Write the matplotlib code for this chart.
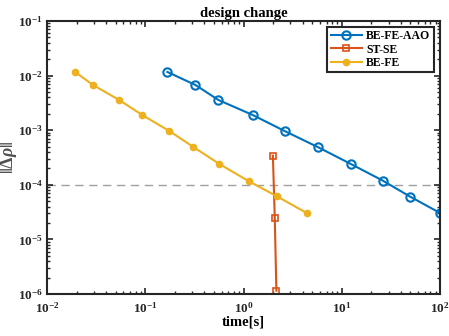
import numpy as np
import matplotlib
matplotlib.use('Agg')
import matplotlib.pyplot as plt

plt.rcParams['font.family'] = ['Liberation Serif', 'DejaVu Serif']
plt.rcParams['font.weight'] = 'bold'
plt.rcParams['mathtext.fontset'] = 'custom'
plt.rcParams['mathtext.rm'] = 'Liberation Serif:bold'
plt.rcParams['mathtext.it'] = 'Liberation Serif:italic'
plt.rcParams['mathtext.bf'] = 'Liberation Serif:bold'

# --- données ---
t_aao = [0.168, 0.324, 0.556, 1.24, 2.62, 5.69, 12.4, 26.2, 49.4, 100.0]
d_aao = [0.01165, 0.00673, 0.00357, 0.0019, 0.000966, 0.000492, 0.00024, 0.000119, 6.1e-5, 3.05e-5]

t_stse = [1.99, 2.08, 2.16]
d_stse = [3.41e-4, 2.49e-5, 1.15e-6]

t_befe = [0.0193, 0.0294, 0.0543, 0.093, 0.176, 0.309, 0.569, 1.125, 2.17, 4.39]
d_befe = [0.01165, 0.00673, 0.00357, 0.0019, 0.000966, 0.000492, 0.00024, 0.000117, 6.2e-5, 3.05e-5]

seuil = 1e-4

fig = plt.figure(figsize=(4.49, 3.36), dpi=100)
ax = fig.add_axes([0.1047, 0.125, 0.8753, 0.8125])

ax.plot(t_aao, d_aao, '-o', color='#0072BD', lw=1.5, ms=6,
        mfc='none', mew=1.5, label='BE-FE-AAO')
ax.plot(t_stse, d_stse, '-s', color='#D95319', lw=1.5, ms=5,
        mfc='none', mew=1.2, label='ST-SE')
ax.plot(t_befe, d_befe, '-o', color='#EDB120', lw=1.5, ms=4.5,
        label='BE-FE')
ax.axhline(seuil, color='#A0A0A0', ls=(0, (6, 4)), lw=1.0, zorder=0)

ax.set_xscale('log')
ax.set_yscale('log')
ax.set_xlim(1e-2, 1e2)
ax.set_ylim(1e-6, 1e-1)

ax.tick_params(which='both', direction='in', top=True, right=True,
               labelsize=9.5, colors='#262626')
ax.tick_params(which='major', length=4, width=1.2, pad=3)
ax.tick_params(axis='x', which='major', pad=5)
ax.tick_params(which='minor', length=2.5, width=1.0)
for s in ax.spines.values():
    s.set_linewidth(1.5)
    s.set_color('#262626')

ax.set_title('design change', fontsize=10.5, fontweight='bold', pad=3)
ax.set_xlabel('time[s]', fontsize=10.5, fontweight='bold', labelpad=0)
ax.set_ylabel(r'$\|\Delta\rho\|$', fontsize=13, color='#505050')
ax.yaxis.set_label_coords(-0.07, 0.5)

leg = ax.legend(loc='upper right', fontsize=8.5, fancybox=False,
                framealpha=1, edgecolor='#262626', borderaxespad=0.5,
                handlelength=2.6, labelspacing=0.1, borderpad=0.3,
                handletextpad=0.4)
leg.get_frame().set_linewidth(1.5)

fig.savefig('out.png', dpi=100)
